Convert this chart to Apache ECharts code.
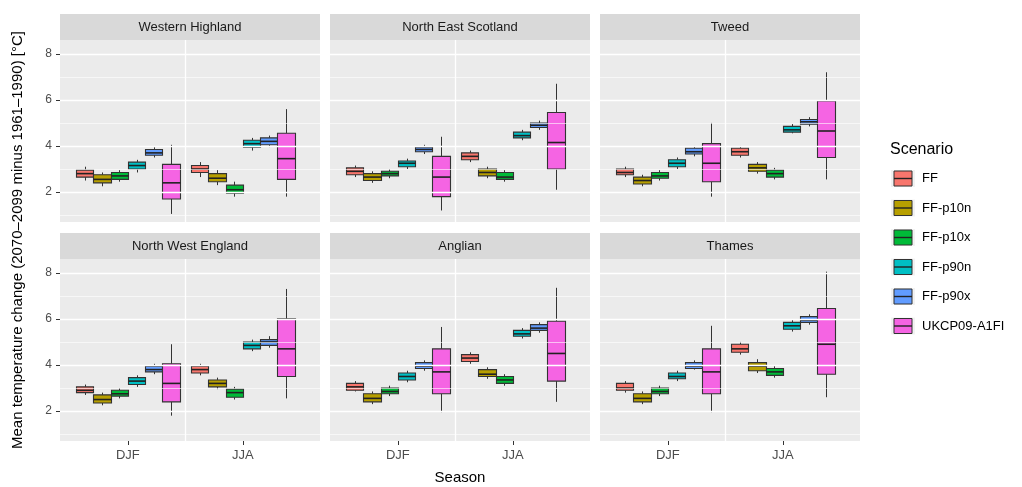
<!DOCTYPE html>
<html><head><meta charset="utf-8">
<script src="https://cdn.jsdelivr.net/npm/echarts@6/dist/echarts.min.js"></script>
<style>html,body{margin:0;padding:0;background:#fff}#c{width:1022px;height:487px}</style>
</head><body><div id="c"></div>
<script>
const seasons = ['DJF','JJA'];
const scenarios = ['FF','FF-p10n','FF-p10x','FF-p90n','FF-p90x','UKCP09-A1FI'];
const regions = ['Western Highland','North East Scotland','Tweed','North West England','Anglian','Thames'];
const yTicks = [2,4,6,8];
// [min,q1,median,q3,max] per region -> scenario -> [DJF, JJA]
const westernHighland = [
  [[2.5,2.65,2.8,2.95,3.1],[2.65,2.85,3.0,3.15,3.3]],
  [[2.25,2.4,2.55,2.75,2.85],[2.3,2.45,2.6,2.8,2.95]],
  [[2.45,2.55,2.7,2.85,2.95],[1.8,1.95,2.1,2.3,2.45]],
  [[2.85,3.0,3.15,3.3,3.4],[3.8,3.95,4.1,4.25,4.35]],
  [[3.5,3.6,3.7,3.85,3.95],[3.95,4.05,4.2,4.35,4.45]],
  [[1.05,1.7,2.4,3.2,4.05],[1.8,2.55,3.45,4.55,5.6]]];
const northEastScotland = [
  [[2.65,2.75,2.9,3.05,3.15],[3.3,3.4,3.55,3.7,3.8]],
  [[2.4,2.5,2.65,2.8,2.9],[2.6,2.7,2.85,3.0,3.1]],
  [[2.6,2.7,2.8,2.9,3.0],[2.45,2.55,2.65,2.85,2.95]],
  [[3.0,3.1,3.25,3.35,3.45],[4.25,4.35,4.45,4.6,4.7]],
  [[3.65,3.75,3.85,3.95,4.05],[4.7,4.8,4.9,5.0,5.1]],
  [[1.2,1.8,2.65,3.55,4.4],[2.1,3.0,4.15,5.45,6.7]]];
const tweed = [
  [[2.65,2.75,2.85,3.0,3.1],[3.5,3.6,3.75,3.9,4.0]],
  [[2.25,2.35,2.5,2.65,2.75],[2.8,2.9,3.05,3.2,3.3]],
  [[2.5,2.6,2.7,2.85,2.95],[2.55,2.65,2.8,2.95,3.05]],
  [[3.0,3.1,3.25,3.4,3.5],[4.55,4.6,4.7,4.85,4.95]],
  [[3.55,3.65,3.75,3.9,4.0],[4.85,4.95,5.05,5.15,5.25]],
  [[1.8,2.45,3.25,4.1,5.0],[2.55,3.5,4.65,5.95,7.2]]];
const northWestEngland = [
  [[2.7,2.8,2.9,3.05,3.15],[3.55,3.65,3.8,3.95,4.05]],
  [[2.25,2.35,2.5,2.7,2.8],[2.95,3.05,3.2,3.35,3.45]],
  [[2.55,2.65,2.75,2.9,3.0],[2.5,2.6,2.8,2.95,3.05]],
  [[3.05,3.15,3.3,3.45,3.55],[4.6,4.7,4.85,5.0,5.1]],
  [[3.6,3.7,3.8,3.95,4.05],[4.75,4.85,5.0,5.1,5.25]],
  [[1.8,2.4,3.2,4.05,4.9],[2.55,3.5,4.7,6.0,7.3]]];
const anglian = [
  [[2.85,2.9,3.05,3.2,3.3],[4.05,4.15,4.3,4.45,4.55]],
  [[2.3,2.4,2.55,2.75,2.85],[3.4,3.5,3.6,3.8,3.9]],
  [[2.65,2.75,2.85,3.0,3.1],[3.1,3.2,3.35,3.5,3.6]],
  [[3.25,3.35,3.5,3.65,3.75],[5.15,5.25,5.35,5.5,5.6]],
  [[3.75,3.85,3.95,4.1,4.2],[5.4,5.5,5.6,5.75,5.85]],
  [[1.95,2.75,3.7,4.7,5.65],[2.4,3.3,4.5,5.9,7.35]]];
const thames = [
  [[2.8,2.9,3.0,3.2,3.3],[4.45,4.55,4.7,4.9,5.0]],
  [[2.3,2.4,2.55,2.75,2.85],[3.65,3.75,3.95,4.1,4.25]],
  [[2.65,2.75,2.85,3.0,3.1],[3.45,3.55,3.7,3.85,3.95]],
  [[3.3,3.4,3.5,3.65,3.75],[5.45,5.55,5.7,5.85,5.95]],
  [[3.8,3.85,3.95,4.1,4.2],[5.75,5.85,5.95,6.1,6.2]],
  [[1.95,2.75,3.7,4.7,5.7],[2.6,3.6,4.9,6.45,8.05]]];
const regionData = [westernHighland,northEastScotland,tweed,northWestEngland,anglian,thames];

const colors = ['#F8766D','#B79F00','#00BA38','#00BFC4','#619CFF','#F564E3'];
const FONT = 'Helvetica, Liberation Sans, Arial';
const lefts = [60,330,600], tops = [40,259], W = 260, H = 182;
const grids=[], xAxes=[], yAxes=[], series=[], graphics=[];
const DODGE = 0.15; // box width in x units

function renderBox(params, api){
  const k = api.value(0), xi = api.value(1);
  const xc = xi + (k-2.5)*DODGE;
  const x0 = Math.round(api.coord([xc-DODGE/2, 0])[0])+0.5;
  const x1 = Math.round(api.coord([xc+DODGE/2, 0])[0])+0.5;
  const xm = Math.round(api.coord([xc, 0])[0])+0.5;
  const y = v => api.coord([xc, v])[1];
  const q1 = y(api.value(3)), q3 = y(api.value(5)), med = y(api.value(4));
  const stroke = '#333';
  return {type:'group',children:[
    {type:'line',shape:{x1:xm,y1:y(api.value(2)),x2:xm,y2:q1},style:{stroke,lineWidth:1}},
    {type:'line',shape:{x1:xm,y1:y(api.value(6)),x2:xm,y2:q3},style:{stroke,lineWidth:1}},
    {type:'rect',shape:{x:x0,y:q3,width:x1-x0,height:q1-q3},style:{fill:api.visual('color'),stroke,lineWidth:1.1}},
    {type:'line',shape:{x1:x0,y1:med,x2:x1,y2:med},style:{stroke:'#222',lineWidth:1.6}}
  ]};
}

regions.forEach((r,i)=>{
  const col=i%3, row=Math.floor(i/3);
  grids.push({left:lefts[col],top:tops[row],width:W,height:H,show:true,backgroundColor:'#EBEBEB',borderWidth:0});
  xAxes.push({type:'value',gridIndex:i,min:0.41,max:2.67,
    axisLine:{show:false},
    axisTick:{show:row===1,customValues:[1,2],lineStyle:{color:'#333'},length:4},
    axisLabel:{show:row===1,customValues:[1,2],formatter:v=>seasons[Math.round(v)-1],color:'#4D4D4D',fontSize:13,margin:8,fontFamily:FONT},
    splitLine:{show:false}});
  yAxes.push({type:'value',gridIndex:i,min:0.7,max:8.6,
    axisLabel:{show:col===0,color:'#4D4D4D',fontSize:12,customValues:yTicks,fontFamily:FONT},
    axisTick:{show:col===0,customValues:yTicks,length:4,lineStyle:{color:'#333'}},
    axisLine:{show:false},splitLine:{show:false}});
  series.push({type:'line',xAxisIndex:i,yAxisIndex:i,data:[],silent:true,
    markLine:{silent:true,symbol:'none',label:{show:false},animation:false,
      data:[1,2,3,4,5,6,7,8].map(v=>({yAxis:v,lineStyle:{color:'#fff',type:'solid',width:v%2===0?1.3:0.6}}))
        .concat([{xAxis:1.5,lineStyle:{color:'#fff',type:'solid',width:1.3}}])}});
  scenarios.forEach((s,k)=>{
    series.push({name:s,type:'custom',xAxisIndex:i,yAxisIndex:i,silent:true,
      itemStyle:{color:colors[k]},renderItem:renderBox,
      encode:{x:1,y:[2,6]},
      data:regionData[i][k].map((v,j)=>[k,j+1].concat(v))});
  });
  graphics.push({type:'rect',shape:{x:lefts[col],y:tops[row]-26,width:W,height:26},style:{fill:'#D9D9D9'}});
  graphics.push({type:'text',x:lefts[col]+W/2,y:tops[row]-13,style:{text:r,fill:'#1A1A1A',fontSize:13,align:'center',verticalAlign:'middle',fontFamily:FONT}});
});
graphics.push({type:'text',x:460,y:478,style:{text:'Season',fill:'#000',fontSize:15,align:'center',verticalAlign:'middle',fontFamily:FONT}});
graphics.push({type:'text',x:18,y:240,rotation:Math.PI/2,style:{text:'Mean temperature change (2070–2099 minus 1961–1990) [°C]',fill:'#000',fontSize:15,align:'center',verticalAlign:'middle',fontFamily:FONT}});
graphics.push({type:'text',x:890,y:150,style:{text:'Scenario',fill:'#000',fontSize:16,verticalAlign:'middle',fontFamily:FONT}});
scenarios.forEach((s,k)=>{
  const y=170+k*29.5;
  graphics.push({type:'rect',shape:{x:891,y:y,width:24,height:17},style:{fill:'#F2F2F2'}});
  graphics.push({type:'rect',shape:{x:894,y:y+1,width:18,height:15},style:{fill:colors[k],stroke:'#333',lineWidth:1}});
  graphics.push({type:'line',shape:{x1:894,y1:y+8.5,x2:912,y2:y+8.5},style:{stroke:'#222',lineWidth:1.4}});
  graphics.push({type:'text',x:922,y:y+8.5,style:{text:s,fill:'#000',fontSize:13,verticalAlign:'middle',fontFamily:FONT}});
});

const chart=echarts.init(document.getElementById('c'),null,{renderer:'canvas'});
chart.setOption({animation:false,grid:grids,xAxis:xAxes,yAxis:yAxes,series:series,graphic:graphics});
</script></body></html>
